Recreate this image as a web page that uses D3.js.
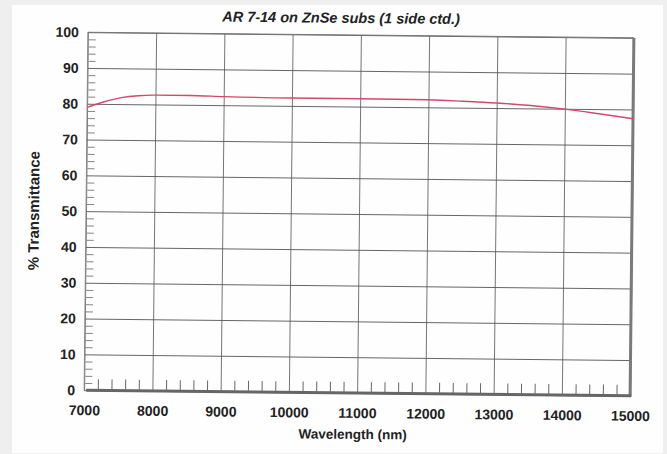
<!DOCTYPE html>
<html>
<head>
<meta charset="utf-8">
<script src="https://cdn.jsdelivr.net/npm/d3@7"></script>
<style>
  html, body { margin: 0; padding: 0; background: #efefef; }
  svg { display: block; }
  text { font-family: "Liberation Sans", Arial, sans-serif; fill: #222; }
</style>
</head>
<body>
<svg id="chart" width="667" height="454"></svg>
<script>
// transmittance curve
const wavelength = [7000, 7250, 7500, 7750, 8000, 8500, 9000, 10000, 11000, 12000, 12500, 13000, 13500, 14000, 14500, 15000]
const transmittance = [79.0, 80.6, 81.8, 82.4, 82.6, 82.6, 82.4, 82.2, 82.2, 82.1, 81.8, 81.4, 80.8, 79.9, 78.7, 77.4]

const xTicks = [7000, 8000, 9000, 10000, 11000, 12000, 13000, 14000, 15000]
const yTicks = [0, 10, 20, 30, 40, 50, 60, 70, 80, 90, 100]

const title = "AR 7-14 on ZnSe subs (1 side ctd.)"
const xLabel = "Wavelength (nm)"
const yLabel = "% Transmittance"

const SVG = d3.select("#chart")
const Width = 667
const Height = 454
const Margin = { top: 35, bottom: 61, left: 86, right: 35 }
const innerWidth = Width - Margin.left - Margin.right
const innerHeight = Height - Margin.top - Margin.bottom

// white page on the grey scanner bed
SVG.append("rect")
    .attr("x", 12).attr("y", 5)
    .attr("width", 651).attr("height", 448)
    .style("fill", "#fefefe")

// the scan is a little crooked, so tilt the whole sheet
const page = SVG.append("g")
    .attr("transform", `rotate(0.6, ${Margin.left + innerWidth / 2}, ${Margin.top + innerHeight / 2})`)

const xscale = d3.scaleLinear()
    .domain([7000, 15000])
    .range([0, innerWidth])

const yscale = d3.scaleLinear()
    .domain([0, 100])
    .range([innerHeight, 0])

const plot = page.append("g")
    .attr("transform", `translate(${Margin.left}, ${Margin.top})`)

// grid
const xAxisGrid = d3.axisBottom(xscale).tickValues(xTicks).tickSize(-innerHeight).tickFormat("")
const yAxisGrid = d3.axisLeft(yscale).tickValues(yTicks).tickSize(-innerWidth).tickFormat("")

plot.append("g")
    .attr("transform", `translate(0, ${innerHeight})`)
    .call(xAxisGrid)
    .call(g => g.select(".domain").remove())
    .call(g => g.selectAll("line").style("stroke", "#666").style("stroke-width", 0.9))

plot.append("g")
    .call(yAxisGrid)
    .call(g => g.select(".domain").remove())
    .call(g => g.selectAll("line").style("stroke", "#555").style("stroke-width", 0.9))

// minor ticks on the left, every 2 %
const yMinor = d3.axisRight(yscale)
    .tickValues(d3.range(2, 100, 2).filter(v => v % 10 != 0))
    .tickSize(7).tickFormat("")

plot.append("g")
    .attr("transform", `translate(1, 0)`)
    .call(yMinor)
    .call(g => g.select(".domain").remove())
    .call(g => g.selectAll("line").style("stroke", "#777").style("stroke-width", 0.9))

// minor ticks on the bottom, every 200 nm, pointing up
const xMinor = d3.axisTop(xscale)
    .tickValues(d3.range(7200, 15000, 200).filter(v => v % 1000 != 0))
    .tickSize(10).tickFormat("")

plot.append("g")
    .attr("transform", `translate(0, ${innerHeight - 1})`)
    .call(xMinor)
    .call(g => g.select(".domain").remove())
    .call(g => g.selectAll("line").style("stroke", "#666").style("stroke-width", 1))

// frame
plot.append("line")
    .attr("x1", 0).attr("x2", innerWidth).attr("y1", 0).attr("y2", 0)
    .style("stroke", "#777").style("stroke-width", 1)
plot.append("line")
    .attr("x1", 0).attr("x2", 0).attr("y1", 0).attr("y2", innerHeight)
    .style("stroke", "#888").style("stroke-width", 1)
plot.append("line")
    .attr("x1", innerWidth).attr("x2", innerWidth).attr("y1", 0).attr("y2", innerHeight + 1)
    .style("stroke", "#7a7a7a").style("stroke-width", 3)
plot.append("line")
    .attr("x1", 2).attr("x2", innerWidth + 1).attr("y1", innerHeight).attr("y2", innerHeight)
    .style("stroke", "#666").style("stroke-width", 3)

// axes labels
const bottom = d3.axisBottom(xscale).tickValues(xTicks).tickSize(0).tickPadding(15).tickFormat(d3.format("d"))
const left = d3.axisLeft(yscale).tickValues(yTicks).tickSize(0).tickPadding(9).tickFormat(d3.format("d"))

plot.append("g")
    .attr("transform", `translate(0, ${innerHeight})`)
    .call(bottom)
    .attr("font-size", 14)
    .attr("font-weight", 700)
    .attr("font-family", "Liberation Sans, Arial, sans-serif")
    .call(g => g.select(".domain").remove())
    .call(g => g.selectAll("text").attr("fill", "#222"))

plot.append("g")
    .call(left)
    .attr("font-size", 14)
    .attr("font-weight", 700)
    .attr("font-family", "Liberation Sans, Arial, sans-serif")
    .call(g => g.select(".domain").remove())
    .call(g => g.selectAll("text").attr("fill", "#222"))

// curve
const line = d3.line()
    .x((d, i) => xscale(wavelength[i]))
    .y(d => yscale(d))
    .curve(d3.curveMonotoneX)

plot.append("path")
    .datum(transmittance)
    .attr("d", line)
    .style("fill", "none")
    .style("stroke", "#d2496a")
    .style("stroke-width", 1.4)

// titles
page.append("text")
    .text(title)
    .attr("transform", `translate(${Margin.left + innerWidth / 2 - 20}, ${Margin.top - 12})`)
    .style("text-anchor", "middle")
    .style("font-size", "14.5px")
    .style("font-weight", 700)
    .style("font-style", "italic")

page.append("text")
    .text(xLabel)
    .attr("transform", `translate(${Margin.left + innerWidth / 2 - 4}, ${Height - 15})`)
    .style("text-anchor", "middle")
    .style("font-size", "13.5px")
    .style("font-weight", 700)

page.append("text")
    .text(yLabel)
    .attr("transform", `translate(39, ${Margin.top + innerHeight / 2}) rotate(-90)`)
    .style("text-anchor", "middle")
    .style("font-size", "15px")
    .style("font-weight", 700)
</script>
</body>
</html>
